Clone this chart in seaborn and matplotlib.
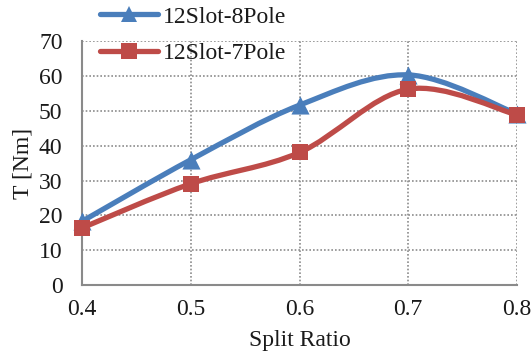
import numpy as np
import matplotlib
matplotlib.use("Agg")
import matplotlib.pyplot as plt
from matplotlib.path import Path
from matplotlib.patches import PathPatch
from matplotlib.lines import Line2D
import seaborn as sns
import pandas as pd

split_ratio = [0.4, 0.5, 0.6, 0.7, 0.8]
pole8 = [18.3, 36.0, 51.7, 60.4, 49.2]
pole7 = [16.4, 29.1, 38.1, 56.3, 48.9]
labels = ["12Slot-8Pole", "12Slot-7Pole"]
colors = ["#4A7EBB", "#BE4B48"]
markers = ["^", "s"]

sns.set_theme(style="white")
plt.rcParams['font.family'] = ['Liberation Serif', 'DejaVu Serif']
FS = 17

fig = plt.figure(figsize=(5.31, 3.58), dpi=100)
ax = fig.add_axes([82/531, 1-285/358, (517-82)/531, (285-41.5)/358])

df = pd.DataFrame({"x": split_ratio * 2,
                   "y": pole8 + pole7,
                   "series": [labels[0]] * 5 + [labels[1]] * 5})

def smooth_path(xs, ys):
    # Excel-style smoothed line: cubic Bezier segments through the data points
    pts = np.column_stack([xs, ys])
    n = len(pts)
    verts = [pts[0]]
    codes = [Path.MOVETO]
    for i in range(n - 1):
        p0 = pts[i - 1] if i > 0 else pts[i]
        p1 = pts[i]
        p2 = pts[i + 1]
        p3 = pts[i + 2] if i + 2 < n else pts[i + 1]
        c1 = p1 + (p2 - p0) / 6.0
        c2 = p2 - (p3 - p1) / 6.0
        verts += [c1, c2, p2]
        codes += [Path.CURVE4] * 3
    return Path(verts, codes)

for lab, col, mk in zip(labels, colors, markers):
    sub = df[df.series == lab]
    ax.add_patch(PathPatch(smooth_path(sub.x.values, sub.y.values),
                           facecolor="none", edgecolor=col, lw=3.8,
                           capstyle="round", joinstyle="round", zorder=3))
    sns.scatterplot(data=sub, x="x", y="y", marker=mk, s=170 if mk == "^" else 140,
                    color=col, edgecolor=col, linewidth=0, ax=ax, zorder=4, legend=False,
                    clip_on=False)

ax.set_xlim(0.4, 0.8)
ax.set_ylim(0, 70)
ax.set_xticks(split_ratio)
ax.set_xticklabels([f"{v:.1f}" for v in split_ratio])
ax.set_yticks(range(0, 71, 10))
ax.tick_params(axis="both", length=0, labelsize=FS, colors="#1a1a1a")
ax.tick_params(axis="y", pad=14)
ax.tick_params(axis="x", pad=10)
ax.grid(True, linestyle=(0, (1, 1.2)), color="#8c8c8c", lw=1.2)
for s in ["top", "right"]:
    ax.spines[s].set_visible(False)
for s in ["left", "bottom"]:
    ax.spines[s].set_color("#8a8a8a")
    ax.spines[s].set_linewidth(1.5)
ax.set_xlabel("Split Ratio", fontsize=FS, color="#1a1a1a", labelpad=7)
ax.set_ylabel("T [Nm]", fontsize=FS, color="#1a1a1a", labelpad=4)

handles = [Line2D([0], [0], color=c, lw=3.8, marker=m, markersize=12 if m == "^" else 11,
                  markeredgewidth=0) for c, m in zip(colors, markers)]
leg = fig.legend(handles, labels, loc="upper left", bbox_to_anchor=(100/531, 1-6/358),
                 frameon=False, fontsize=FS, handlelength=2.45, handletextpad=0.2,
                 labelspacing=0.65, borderpad=0, borderaxespad=0)
for t in leg.get_texts():
    t.set_color("#1a1a1a")

fig.savefig("out.png", dpi=100)
